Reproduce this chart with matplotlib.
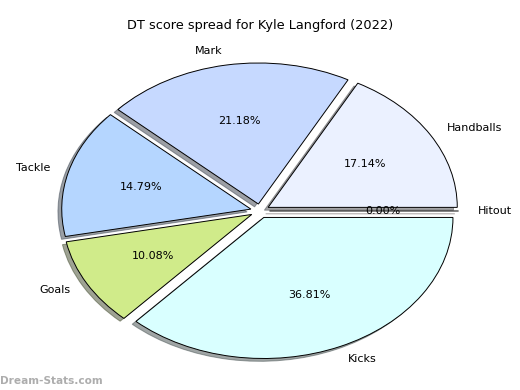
import matplotlib
matplotlib.use("Agg")
import matplotlib.pyplot as plt

labels = ["Handballs", "Mark", "Tackle", "Goals", "Kicks", "Hitout"]
shares = [17.14, 21.18, 14.79, 10.08, 36.81, 0.0]
colors = ["#EBF1FF", "#C6D9FF", "#B5D6FF", "#D0EB8A", "#D9FFFF", "#FFE0E0"]
explode = [0.05] * len(labels)

fig = plt.figure(figsize=(5.2, 3.9), dpi=100)
ax = fig.add_axes([0.0635, 0.025, 0.873, 0.868])
# older matplotlib drew the shadow without the dpi/72 scaling
ax.pie(
    shares,
    labels=labels,
    colors=colors,
    explode=explode,
    autopct="%1.2f%%",
    shadow={"ox": -0.0144, "oy": -0.0144},
    startangle=0,
    wedgeprops={"edgecolor": "black", "linewidth": 0.7},
    textprops={"fontsize": 8},
)
ax.set_aspect("auto")
ax.set_xlim(-1.2, 1.2)
ax.set_ylim(-1.2, 1.2)
fig.text(0.5, 1 - 25 / 390, "DT score spread for Kyle Langford (2022)",
         ha="center", va="center", fontsize=9.25)
fig.text(0.0, 0.015, "Dream-Stats.com", color="#999999", fontsize=7.6,
         fontweight="bold", alpha=0.8)
fig.savefig("out.png", dpi=100)
